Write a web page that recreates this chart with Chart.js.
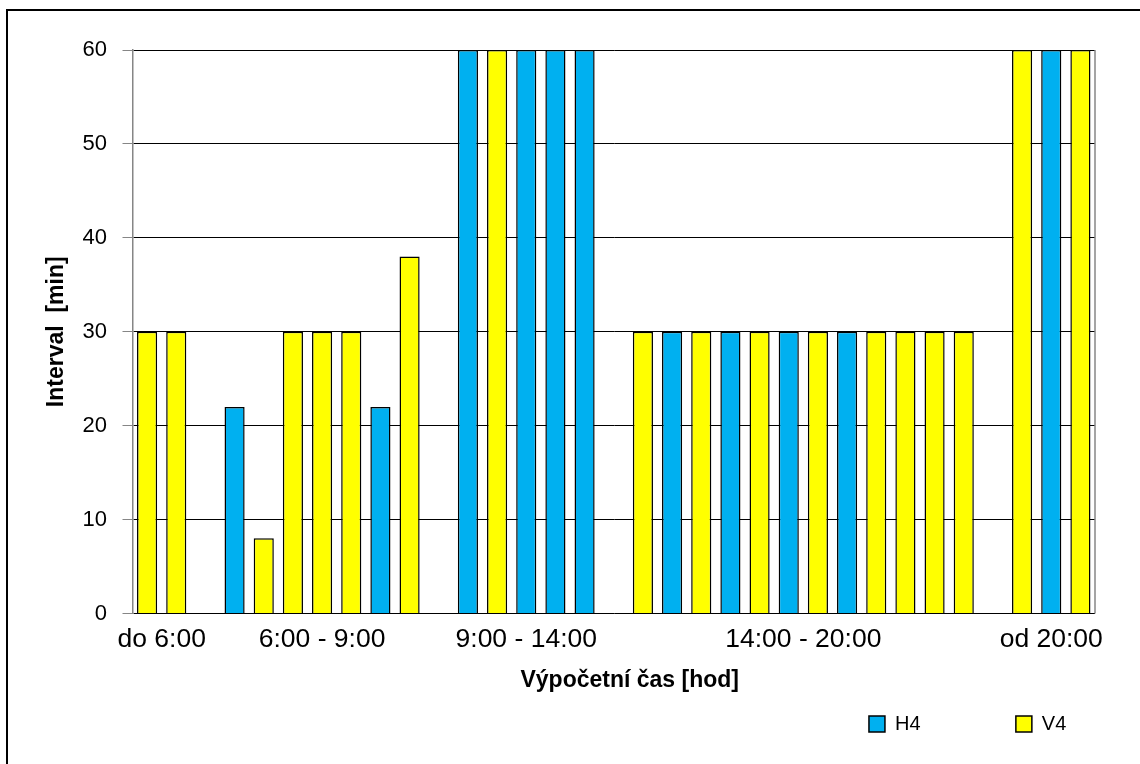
<!DOCTYPE html>
<html>
<head>
<meta charset="utf-8">
<script src="https://cdn.jsdelivr.net/npm/chart.js@4.4.1/dist/chart.umd.min.js"></script>
<style>
  html, body { margin: 0; padding: 0; background: #fff; }
  #wrap { width: 1140px; height: 764px; }
</style>
</head>
<body>
<div id="wrap"><canvas id="c" width="1140" height="764"></canvas></div>
<script>
// ---- data ----
const categories = ['1','2','3','4','5','6','7','8','9','10','11','12','13','14','15','16','17',
                    '18','19','20','21','22','23','24','25','26','27','28','29','30','31','32','33'];
const seriesNames = ['H4', 'V4'];
const h4Values = [null, null, null, 22, null, null, null, null, 22, null, null,
                  60, null, 60, 60, 60, null,
                  null, 30, null, 30, null, 30, null, 30, null, null, null, null, null,
                  null, 60, null];
const v4Values = [30, 30, null, null, 8, 30, 30, 30, null, 38, null,
                  null, 60, null, null, null, null,
                  30, null, 30, null, 30, null, 30, null, 30, 30, 30, 30, null,
                  60, null, 60];
const groupLabels = ['do 6:00', '6:00 - 9:00', '9:00 - 14:00', '14:00 - 20:00', 'od 20:00'];
const groupFirst = [0, 3, 11, 17, 30];
const groupLast  = [1, 9, 15, 28, 32];
const yTicks = [0, 10, 20, 30, 40, 50, 60];
const xTitle = 'Výpočetní čas [hod]';
const yTitle = 'Interval  [min]';

// ---- chart ----
const FONT = 'Liberation Sans';
Chart.defaults.font.family = FONT;
Chart.defaults.color = '#000';

const groupCenters = groupFirst.map((f, i) => (f + groupLast[i]) / 2);

const framePlugin = {
  id: 'frame',
  beforeDraw(chart) {
    const ctx = chart.ctx;
    ctx.save();
    ctx.fillStyle = '#fff';
    ctx.fillRect(0, 0, chart.width, chart.height);
    ctx.strokeStyle = '#000';
    ctx.lineWidth = 2;
    ctx.strokeRect(7, 10, chart.width + 40, chart.height + 40);
    ctx.restore();
  },
  beforeDatasetsDraw(chart) {
    const a = chart.chartArea, ctx = chart.ctx;
    ctx.save();
    ctx.strokeStyle = '#868686';
    ctx.lineWidth = 1.5;
    ctx.beginPath();
    ctx.moveTo(a.right, a.top);
    ctx.lineTo(a.right, a.bottom);
    ctx.stroke();
    ctx.restore();
  }
};

const legendSuffix = ['               ', '   '];

new Chart(document.getElementById('c'), {
  type: 'bar',
  data: {
    labels: categories,
    datasets: [
      { label: seriesNames[0], data: h4Values, backgroundColor: '#00B0F0', borderColor: '#000',
        borderWidth: 1.5, grouped: false, xAxisID: 'x', yAxisID: 'y' },
      { label: seriesNames[1], data: v4Values, backgroundColor: '#FFFF00', borderColor: '#000',
        borderWidth: 1.5, grouped: false, xAxisID: 'x', yAxisID: 'y' }
    ]
  },
  options: {
    responsive: false,
    animation: false,
    devicePixelRatio: 1,
    categoryPercentage: 1.0,
    barPercentage: 0.69,
    layout: { padding: { left: 0, right: 45, top: 50, bottom: 20 } },
    plugins: {
      tooltip: { enabled: false },
      legend: {
        position: 'bottom',
        align: 'end',
        labels: {
          boxWidth: 16, boxHeight: 16, padding: 12, color: '#000',
          font: { family: FONT, size: 20 },
          generateLabels(chart) {
            const items = Chart.defaults.plugins.legend.labels.generateLabels(chart);
            items.forEach((it, i) => { it.text = it.text + legendSuffix[i]; it.lineWidth = 1.5; });
            return items;
          }
        }
      }
    },
    scales: {
      x: {
        type: 'category',
        display: false,
        offset: true,
        grid: { display: false }
      },
      xg: {
        type: 'linear',
        position: 'bottom',
        offset: false,
        min: -0.5,
        max: categories.length - 0.5,
        afterBuildTicks(s) { s.ticks = groupCenters.map(v => ({ value: v })); },
        ticks: {
          autoSkip: false, maxRotation: 0, minRotation: 0, padding: 10, color: '#000',
          font: { family: FONT, size: 26.5 },
          callback: (v, i) => groupLabels[i]
        },
        grid: { display: false, drawTicks: false, offset: false },
        border: { display: false },
        title: {
          display: true, text: '     ' + xTitle, color: '#000',
          font: { family: FONT, size: 23, weight: 'bold' },
          padding: { top: 0, bottom: 7.2 }
        },
        afterFit(s) { s.height = 88.5; }
      },
      y: {
        min: 0, max: 60,
        afterBuildTicks(s) { s.ticks = yTicks.map(v => ({ value: v })); },
        ticks: { stepSize: 10, color: '#000', padding: 15.5, font: { family: FONT, size: 22 } },
        grid: { color: '#000', lineWidth: 1, drawTicks: true, tickLength: 10, tickColor: '#868686' },
        border: { display: true, color: '#868686', width: 1.5 },
        title: {
          display: true, text: yTitle, color: '#000',
          font: { family: FONT, size: 23, weight: 'bold' },
          padding: { top: 42.7, bottom: 0 }
        },
        afterFit(s) { s.width = 132.5; }
      }
    }
  },
  plugins: [framePlugin]
});
</script>
</body>
</html>
